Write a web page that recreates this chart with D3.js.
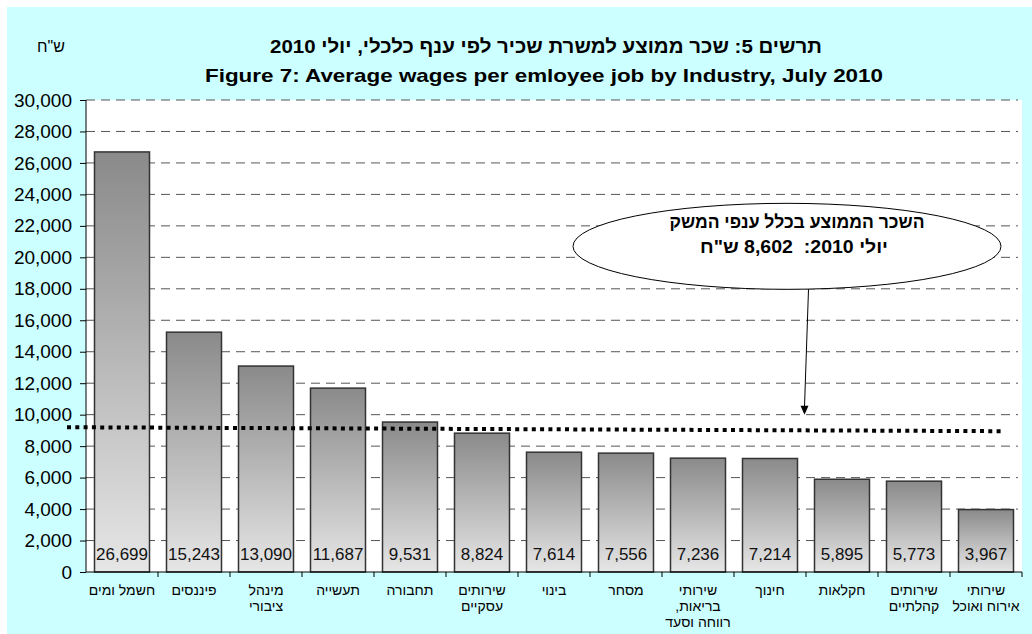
<!DOCTYPE html>
<html>
<head>
<meta charset="utf-8">
<script src="https://cdn.jsdelivr.net/npm/d3@7"></script>
<style>
  body { margin: 0; background: #ffffff; }
  svg { display: block; font-family: Arial, "Liberation Sans", sans-serif; }
  text { white-space: pre; }
</style>
</head>
<body>
<svg id="chart" width="1032" height="634"></svg>
<script>
// data
var industries = ["חשמל ומים", "פיננסים", "מינהל ציבורי", "תעשייה", "תחבורה", "שירותים עסקיים",
    "בינוי", "מסחר", "שירותי בריאות, רווחה וסעד", "חינוך", "חקלאות", "שירותים קהלתיים", "שירותי אירוח ואוכל"];
var industryLines = [["חשמל ומים"], ["פיננסים"], ["מינהל", "ציבורי"], ["תעשייה"], ["תחבורה"], ["שירותים", "עסקיים"],
    ["בינוי"], ["מסחר"], ["שירותי", "בריאות,", "רווחה וסעד"], ["חינוך"], ["חקלאות"], ["שירותים", "קהלתיים"], ["שירותי", "אירוח ואוכל"]];
var wages = [26699, 15243, 13090, 11687, 9531, 8824, 7614, 7556, 7236, 7214, 5895, 5773, 3967];
var yTicks = [0, 2000, 4000, 6000, 8000, 10000, 12000, 14000, 16000, 18000, 20000, 22000, 24000, 26000, 28000, 30000];
var avgLineEnds = [9200, 8950];   // hand drawn dotted line, slightly sloped
var titleHe = "תרשים 5: שכר ממוצע למשרת שכיר לפי ענף כלכלי, יולי 2010";
var titleEn = "Figure 7: Average wages per emloyee job by Industry, July 2010";
var unitLabel = "ש\"ח";
var calloutLines = ["השכר הממוצע בכלל ענפי המשק", "יולי 2010:  8,602 ש\"ח"];

var margin = {top: 100, right: 10, bottom: 62, left: 86},
    width = 1032 - margin.left - margin.right,
    height = 634 - margin.top - margin.bottom;

var svg = d3.select("#chart");

// cyan chart area and white plot area
svg.append("rect")
    .attr("x", 7).attr("y", 7)
    .attr("width", 1025).attr("height", 627)
    .attr("fill", "#ccffff");

var g = svg.append("g")
    .attr("transform", "translate(" + margin.left + "," + margin.top + ")");

g.append("rect")
    .attr("width", width).attr("height", height)
    .attr("fill", "#ffffff");

var x = d3.scaleBand().domain(industries).range([0, width]).paddingInner(17 / 72).paddingOuter(17 / 72 / 2);
var y = d3.scaleLinear().domain([0, 30000]).range([height, 0]);

// gradient used by every bar
var grad = svg.append("defs").append("linearGradient")
    .attr("id", "barGrad")
    .attr("x1", 0).attr("y1", 0).attr("x2", 0).attr("y2", 1);
grad.append("stop").attr("offset", "0%").attr("stop-color", "#8a8a8a");
grad.append("stop").attr("offset", "100%").attr("stop-color", "#e6e6e6");

// dashed gridlines
g.append("g")
    .selectAll("line")
    .data(yTicks.filter(function(d) { return d > 0; }))
    .join("line")
    .attr("x1", 0).attr("x2", width - 4)
    .attr("y1", function(d) { return y(d); })
    .attr("y2", function(d) { return y(d); })
    .attr("stroke", "#555")
    .attr("stroke-width", 1)
    .attr("stroke-dasharray", "9,6");

// bars
g.append("g")
    .selectAll("rect")
    .data(wages)
    .join("rect")
    .attr("x", function(d, i) { return x(industries[i]); })
    .attr("y", function(d) { return y(d); })
    .attr("width", x.bandwidth())
    .attr("height", function(d) { return height - y(d); })
    .attr("fill", "url(#barGrad)")
    .attr("stroke", "#333")
    .attr("stroke-width", 1.5);

// value labels at the foot of each bar
g.append("g")
    .selectAll("text")
    .data(wages)
    .join("text")
    .attr("x", function(d, i) { return x(industries[i]) + x.bandwidth() / 2; })
    .attr("y", height - 12)
    .attr("text-anchor", "middle")
    .attr("font-size", "17px")
    .attr("fill", "#111")
    .text(function(d) { return d3.format(",")(d); });

// Y axis
var yAxis = g.append("g")
    .call(d3.axisLeft(y).tickValues(yTicks).tickSize(6).tickFormat(d3.format(",")));
yAxis.select(".domain").attr("stroke", "#000").attr("d", "M0,0V" + height);
yAxis.selectAll("text").attr("font-size", "19px").attr("fill", "#000").attr("x", -14);
yAxis.selectAll(".tick line").attr("stroke", "#000");

// X axis: ticks on the band edges
g.append("line")
    .attr("x1", 0).attr("x2", width)
    .attr("y1", height).attr("y2", height)
    .attr("stroke", "#000");
g.append("g")
    .selectAll("line")
    .data(industries)
    .join("line")
    .attr("x1", function(d) { return x(d) + x.bandwidth() + x.step() * x.paddingInner() / 2; })
    .attr("x2", function(d) { return x(d) + x.bandwidth() + x.step() * x.paddingInner() / 2; })
    .attr("y1", height).attr("y2", height + 5)
    .attr("stroke", "#000");

// category labels, several lines each
var cat = g.append("g")
    .selectAll("text")
    .data(industryLines)
    .join("text")
    .attr("text-anchor", "middle")
    .attr("direction", "rtl")
    .attr("font-size", "14px")
    .attr("fill", "#000")
    .attr("transform", function(d, i) {
        return "translate(" + (x(industries[i]) + x.bandwidth() / 2) + "," + (height + 23) + ")";
    });
cat.selectAll("tspan")
    .data(function(d) { return d; })
    .join("tspan")
    .attr("x", 0)
    .attr("y", function(d, i) { return i * 16; })
    .text(function(d) { return d; });

// dotted average line
g.append("line")
    .attr("x1", -19).attr("x2", width - 20)
    .attr("y1", y(avgLineEnds[0])).attr("y2", y(avgLineEnds[1]))
    .attr("stroke", "#000")
    .attr("stroke-width", 4)
    .attr("stroke-dasharray", "4,4.3");

// callout ellipse with arrow
var callout = g.append("g");
callout.append("line")
    .attr("x1", x(industries[9]) + 66).attr("y1", y(20700) + 43)
    .attr("x2", x(industries[9]) + 62).attr("y2", y(10000) - 8)
    .attr("stroke", "#000");
callout.append("path")
    .attr("d", "M" + (x(industries[9]) + 62) + "," + y(10000) + "l-4,-9h8z")
    .attr("fill", "#000");
callout.append("ellipse")
    .attr("cx", 701).attr("cy", y(20700))
    .attr("rx", 214).attr("ry", 43)
    .attr("fill", "#fff")
    .attr("stroke", "#000");
callout.selectAll("text")
    .data(calloutLines)
    .join("text")
    .attr("x", function(d, i) { return i === 0 ? 711 : 708; })
    .attr("y", function(d, i) { return y(20700) - 18 + i * 25; })
    .attr("text-anchor", "middle")
    .attr("direction", "rtl")
    .attr("font-size", "18px")
    .attr("font-weight", "bold")
    .attr("textLength", function(d, i) { return i === 0 ? 255 : 188; })
    .attr("lengthAdjust", "spacingAndGlyphs")
    .text(function(d) { return d; });

// titles
svg.append("text")
    .attr("x", 546).attr("y", 53)
    .attr("text-anchor", "middle")
    .attr("direction", "rtl")
    .attr("font-size", "19px")
    .attr("font-weight", "bold")
    .attr("textLength", 552)
    .attr("lengthAdjust", "spacingAndGlyphs")
    .text(titleHe);
svg.append("text")
    .attr("x", 544).attr("y", 82)
    .attr("text-anchor", "middle")
    .attr("font-size", "19px")
    .attr("font-weight", "bold")
    .attr("textLength", 678)
    .attr("lengthAdjust", "spacingAndGlyphs")
    .text(titleEn);
svg.append("text")
    .attr("x", 51).attr("y", 52)
    .attr("text-anchor", "middle")
    .attr("direction", "rtl")
    .attr("font-size", "16px")
    .text(unitLabel);
</script>
</body>
</html>
